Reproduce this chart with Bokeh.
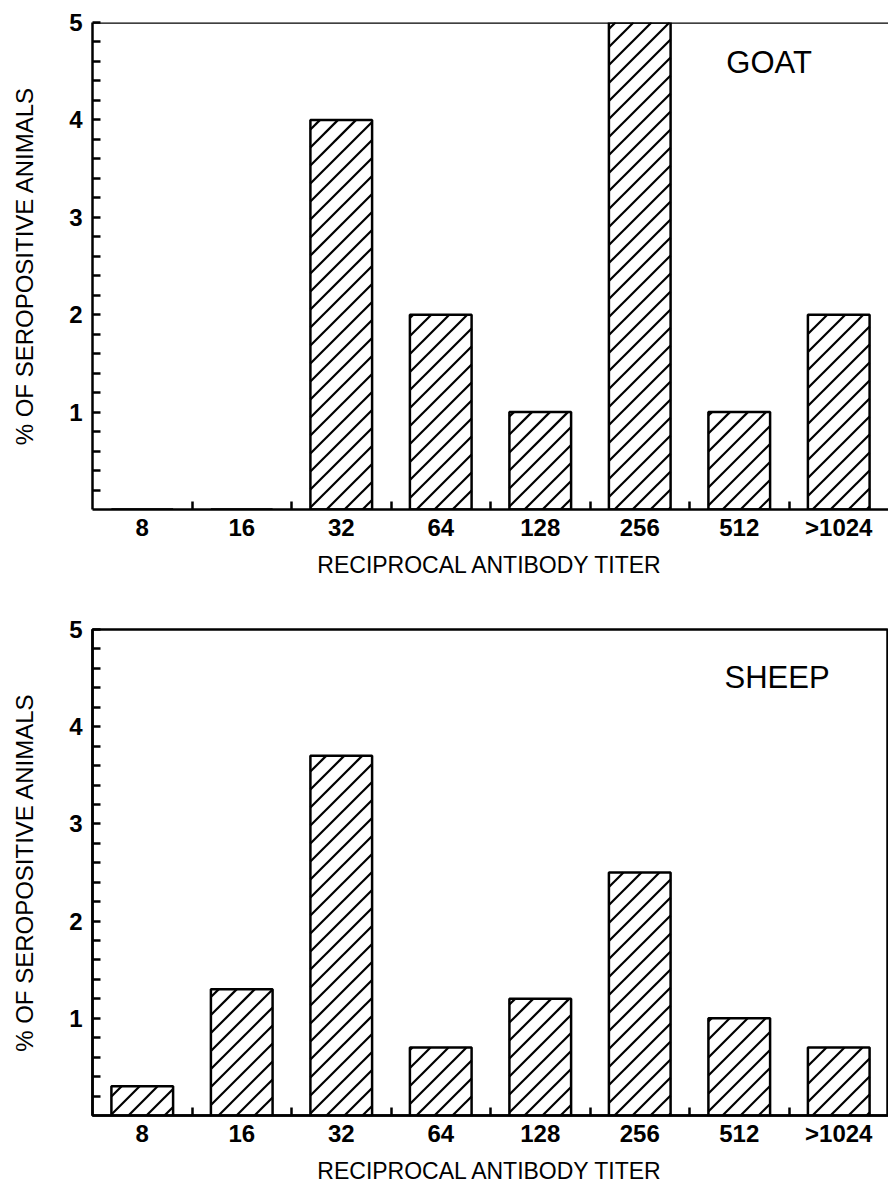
import math
from bokeh.plotting import figure
from bokeh.models import FixedTicker, Label, Span, Range1d
from bokeh.layouts import column
from bokeh.embed import file_html
from bokeh.resources import INLINE

titers = ["8", "16", "32", "64", "128", "256", "512", ">1024"]
goat_pct = [0, 0, 4, 2, 1, 5, 1, 2]
sheep_pct = [0.3, 1.3, 3.7, 0.7, 1.2, 2.5, 1.0, 0.7]
y_major = [1, 2, 3, 4, 5]
y_max = 5

FONT = "Liberation Sans"
FRAME_W = 796
BAR_W = 0.62
HATCH_GAP = 18  # px between "/" hatch lines (horizontal)


def hatch_segments(xs, tops, frame_h):
    """45-degree '/' hatch lines clipped to each bar, derived from bar data."""
    n = len(xs)
    px = FRAME_W / n          # pixels per x unit (range -0.5 .. n-0.5)
    py = frame_h / y_max      # pixels per y unit
    x0s, y0s, x1s, y1s = [], [], [], []
    for x, t in zip(xs, tops):
        if t <= 0:
            continue
        u0 = (x - BAR_W / 2 + 0.5) * px
        u1 = (x + BAR_W / 2 + 0.5) * px
        vt = t * py
        kmin = math.floor((u0 - vt) / HATCH_GAP)
        kmax = math.ceil(u1 / HATCH_GAP)
        for k in range(kmin, kmax + 1):
            c = k * HATCH_GAP
            lo = max(u0, c)
            hi = min(u1, c + vt)
            if hi - lo < 0.5:
                continue
            x0s.append(lo / px - 0.5)
            y0s.append((lo - c) / py)
            x1s.append(hi / px - 0.5)
            y1s.append((hi - c) / py)
    return x0s, y0s, x1s, y1s


def make_panel(values, name, top_border, bottom_border, height_frame, name_x, name_y, outline):
    n = len(titers)
    xs = list(range(n))
    p = figure(width=92 + FRAME_W, height=top_border + height_frame + bottom_border,
               frame_width=FRAME_W, frame_height=height_frame,
               x_range=Range1d(-0.5, n - 0.5), y_range=Range1d(0, y_max),
               output_backend="svg", toolbar_location=None,
               min_border_left=92, min_border_right=0,
               min_border_top=top_border, min_border_bottom=bottom_border)
    p.xgrid.visible = False
    p.ygrid.visible = False
    p.background_fill_color = "white"
    p.border_fill_color = "white"
    if outline:
        p.outline_line_color = "black"
        p.outline_line_width = 2.5
    else:
        p.outline_line_color = None
        p.add_layout(Span(location=y_max, dimension="width", line_color="black", line_width=2.5))

    p.vbar(x=xs, top=values, width=BAR_W, bottom=0, fill_color="white", line_color=None)
    hx0, hy0, hx1, hy1 = hatch_segments(xs, values, height_frame)
    p.segment(x0=hx0, y0=hy0, x1=hx1, y1=hy1, line_color="black", line_width=2.2)
    p.vbar(x=xs, top=values, width=BAR_W, bottom=0,
           fill_color=None, line_color="black", line_width=2.5)

    # x axis
    xa = p.xaxis[0]
    xa.ticker = FixedTicker(ticks=xs, minor_ticks=[i + 0.5 for i in xs[:-1]])
    xa.major_label_overrides = {i: t for i, t in zip(xs, titers)}
    xa.major_tick_in = 0
    xa.major_tick_out = 0
    xa.minor_tick_in = 8
    xa.minor_tick_out = 0
    xa.minor_tick_line_width = 2.5
    xa.axis_line_width = 2.5
    xa.major_label_text_font = FONT
    xa.major_label_text_font_style = "bold"
    xa.major_label_text_font_size = "24px"
    xa.major_label_text_color = "black"
    xa.major_label_standoff = 4
    xa.axis_label = "RECIPROCAL ANTIBODY TITER"
    xa.axis_label_text_font = FONT
    xa.axis_label_text_font_style = "normal"
    xa.axis_label_text_font_size = "23px"
    xa.axis_label_text_color = "black"
    xa.axis_label_standoff = 8

    ya = p.yaxis[0]
    minors = [i / 5 for i in range(1, 5 * y_max) if i % 5 != 0]
    ya.ticker = FixedTicker(ticks=y_major, minor_ticks=minors)
    ya.major_tick_in = 8
    ya.major_tick_out = 0
    ya.minor_tick_in = 8
    ya.minor_tick_out = 0
    ya.major_tick_line_width = 2.5
    ya.minor_tick_line_width = 2.5
    ya.axis_line_width = 2.5
    ya.major_label_text_font = FONT
    ya.major_label_text_font_style = "bold"
    ya.major_label_text_font_size = "24px"
    ya.major_label_text_color = "black"
    ya.major_label_standoff = 10
    ya.axis_label = "% OF SEROPOSITIVE ANIMALS"
    ya.axis_label_text_font = FONT
    ya.axis_label_text_font_style = "normal"
    ya.axis_label_text_font_size = "24px"
    ya.axis_label_text_color = "black"
    ya.axis_label_standoff = 28

    p.add_layout(Label(x=name_x, y=name_y, text=name, text_font=FONT,
                       text_font_size="31px", text_align="center",
                       text_baseline="middle", text_color="black"))
    return p


p1 = make_panel(goat_pct, "GOAT", 22, 81, 487, 6.30, 4.59, False)
p2 = make_panel(sheep_pct, "SHEEP", 39, 70, 486, 6.38, 4.51, True)

layout = column(p1, p2, spacing=0)
open("out.html", "w").write(file_html(layout, INLINE))
